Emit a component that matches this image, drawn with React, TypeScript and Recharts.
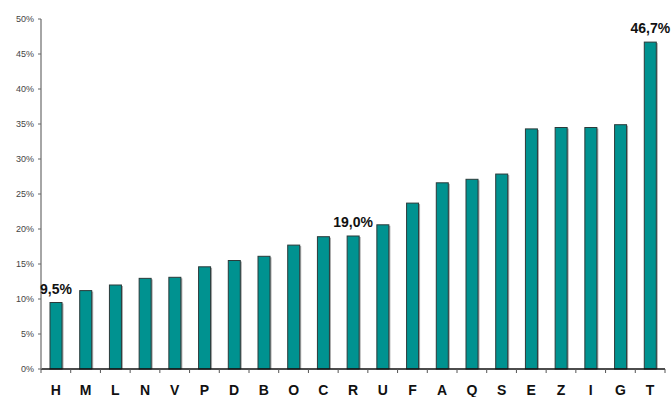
import { BarChart, Bar, XAxis, YAxis, LabelList } from "recharts";

// categories and values
const categories = ["H", "M", "L", "N", "V", "P", "D", "B", "O", "C", "R", "U", "F", "A", "Q", "S", "E", "Z", "I", "G", "T"];
const values = [9.5, 11.2, 12.0, 12.95, 13.1, 14.6, 15.5, 16.1, 17.7, 18.9, 19.0, 20.6, 23.7, 26.6, 27.1, 27.85, 34.3, 34.5, 34.5, 34.9, 46.7];
const labeledCategories = ["H", "R", "T"];
const yTicks = [0, 5, 10, 15, 20, 25, 30, 35, 40, 45, 50];

const data = categories.map((c, i) => ({ name: c, value: values[i] }));

const W = 671;
const H = 397;
const M = { top: 19, right: 6, bottom: 0, left: 0 };
const Y_W = 41;
const BAND = (W - M.left - M.right - Y_W) / categories.length;

const FONT = "'Liberation Sans', Arial, sans-serif";

const XTick = (props: any) => {
  const { x, y, payload, index } = props;
  const last = index === categories.length - 1;
  return (
    <g>
      <line x1={x - BAND / 2} x2={x - BAND / 2} y1={y} y2={y + 4} stroke="#555" />
      {last && <line x1={x + BAND / 2} x2={x + BAND / 2} y1={y} y2={y + 4} stroke="#555" />}
      <text x={x} y={y + 26} textAnchor="middle" fontFamily={FONT} fontWeight="bold" fontSize={14} fill="#111">
        {payload.value}
      </text>
    </g>
  );
};

const BarShape = (props: any) => {
  const { x, y, width, height } = props;
  if (!height || height <= 0) return null;
  return (
    <g>
      <rect x={x + 1.5} y={y + 1} width={width} height={height - 1} fill="#a8a8a8" />
      <rect x={x} y={y} width={width} height={height} fill="#009290" stroke="#2b3a3a" strokeWidth={1} />
    </g>
  );
};

const ValueLabel = (props: any) => {
  const { x, y, width, value, index } = props;
  if (!labeledCategories.includes(categories[index])) return null;
  return (
    <text x={x + width / 2} y={y - 9} textAnchor="middle" fontFamily={FONT} fontWeight="bold" fontSize={14} fill="#111">
      {String(value.toFixed(1)).replace(".", ",") + "%"}
    </text>
  );
};

export default function App() {
  return (
    <div style={{ position: "fixed", left: 0, top: 0, width: W, height: H, background: "#fff" }}>
      <BarChart width={W} height={H} data={data} margin={M} barCategoryGap={0}>
        <XAxis
          dataKey="name"
          height={28}
          interval={0}
          tickLine={false}
          tickSize={0}
          tickMargin={0}
          axisLine={{ stroke: "#111", strokeWidth: 1.5 }}
          tick={<XTick />}
        />
        <YAxis
          width={Y_W}
          domain={[0, 50]}
          ticks={yTicks}
          interval={0}
          tickFormatter={(v: number) => `${v}%`}
          tickSize={3}
          tickMargin={4}
          tickLine={{ stroke: "#666" }}
          axisLine={{ stroke: "#888", strokeWidth: 1.5 }}
          tick={{ fontFamily: FONT, fontSize: 9, fill: "#444" }}
        />
        <Bar dataKey="value" barSize={12} shape={<BarShape />} isAnimationActive={false}>
          <LabelList dataKey="value" content={<ValueLabel />} />
        </Bar>
      </BarChart>
    </div>
  );
}
